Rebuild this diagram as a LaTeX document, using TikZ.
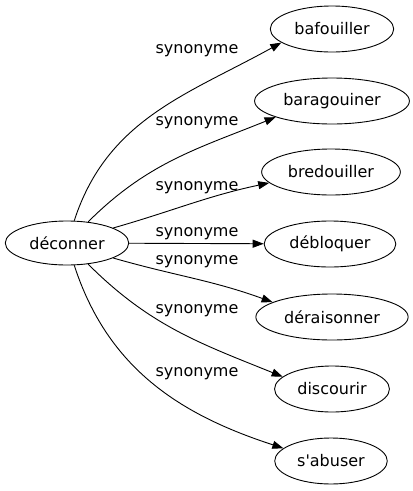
\documentclass[tikz,border=0pt]{standalone}
\usepackage{fontspec}
\setmainfont{DejaVu Sans}
\usetikzlibrary{shapes.geometric,arrows.meta}

\begin{document}
\begin{tikzpicture}[x=1pt,y=1pt,font=\fontsize{16}{18}\selectfont,line width=0.9pt,
  word/.style={ellipse,draw,inner xsep=6pt,minimum height=46pt},
  syn/.style={inner sep=1pt},
  arr/.style={-{Triangle[length=11pt,width=8pt]}}]
 \useasboundingbox (0,-491) rectangle (413,0);
 \node[word,minimum height=44pt] (deconner) at (67,-243) {déconner};
 \node[word] (bafouiller) at (332,-29) {bafouiller};
 \node[word] (baragouiner) at (332,-101) {baragouiner};
 \node[word] (bredouiller) at (331,-172) {bredouiller};
 \node[word] (debloquer) at (330,-244) {débloquer};
 \node[word] (deraisonner) at (332,-317) {déraisonner};
 \node[word] (discourir) at (332,-389) {discourir};
 \node[word] (sabuser) at (331,-461) {s\textquotesingle abuser};
 \draw[arr] (deconner.72) to[out=72,in=209] (bafouiller.195);
 \draw[arr] (deconner.45) to[out=45,in=202] (baragouiner.196);
 \draw[arr] (deconner.18) to[out=16,in=192] (bredouiller.190);
 \draw[arr] (deconner) -- (debloquer);
 \draw[arr] (deconner.-18) to[out=-16,in=160] (deraisonner.166);
 \draw[arr] (deconner.-45) to[out=-45,in=158] (discourir.166);
 \draw[arr] (deconner.-72) to[out=-72,in=162] (sabuser.165);
 \node[syn] (syn1) at (197,-51) {synonyme};
 \node[syn] (syn2) at (197,-123) {synonyme};
 \node[syn] (syn3) at (197,-188) {synonyme};
 \node[syn] (syn4) at (197,-234) {synonyme};
 \node[syn] (syn5) at (197,-262) {synonyme};
 \node[syn] (syn6) at (197,-311) {synonyme};
 \node[syn] (syn7) at (197,-374) {synonyme};
\end{tikzpicture}
\end{document}
